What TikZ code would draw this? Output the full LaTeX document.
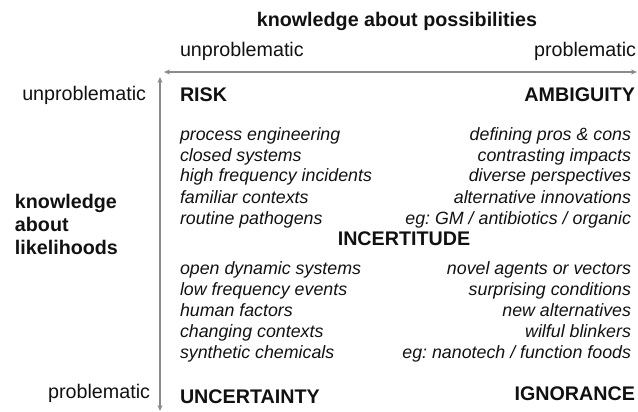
\documentclass[tikz,border=0pt]{standalone}
\usepackage{fontspec}
\setmainfont{Liberation Sans}
\usetikzlibrary{arrows.meta}
\definecolor{axisgray}{HTML}{8A8A8A}
\definecolor{ink}{HTML}{111111}
\frenchspacing
\tikzset{
  every node/.style={inner sep=0pt, outer sep=0pt, text=ink},
  hdr/.style={font=\fontsize{19.7}{23}\selectfont\bfseries},
  lbl/.style={font=\fontsize{19.7}{23}\selectfont},
  item/.style={font=\fontsize{17.8}{21}\selectfont\itshape},
  axis/.style={draw=axisgray, line width=1.2pt, {Stealth[length=6pt,width=5pt]}-{Stealth[length=6pt,width=5pt]}}
}
\begin{document}
\begin{tikzpicture}[x=1pt,y=-1pt]
\useasboundingbox (0,0) rectangle (638,412);
% top title
\node[hdr, anchor=base] (title) at (397,27) {knowledge about possibilities};
\node[lbl, anchor=base west] (tl) at (180,57) {unproblematic};
\node[lbl, anchor=base east] (tr) at (636,57) {problematic};
% axes
\coordinate (hx0) at (164,72);
\coordinate (hx1) at (637,72);
\draw[axis] (hx0) -- (hx1);
\coordinate (vy0) at (160,77);
\coordinate (vy1) at (160,411);
\draw[axis] (vy0) -- (vy1);
% left labels
\node[lbl, anchor=base east] (lu) at (146,101) {unproblematic};
\node[lbl, anchor=base east] (lp) at (150,398) {problematic};
\node[hdr, anchor=base west] (k1) at (15,208) {knowledge};
\node[hdr, anchor=base west] (k2) at (15,231) {about};
\node[hdr, anchor=base west] (k3) at (15,254) {likelihoods};
% quadrant headers
\node[hdr, anchor=base west] (risk) at (180,102) {RISK};
\node[hdr, anchor=base east] (amb) at (635,102) {AMBIGUITY};
\node[hdr, anchor=base] (inc) at (404,245) {INCERTITUDE};
\node[hdr, anchor=base west] (unc) at (180,403) {UNCERTAINTY};
\node[hdr, anchor=base east] (ign) at (635,400) {IGNORANCE};
% items upper left
\node[item, anchor=base west] (ul1) at (180,140) {process engineering};
\node[item, anchor=base west] (ul2) at (180,161) {closed systems};
\node[item, anchor=base west] (ul3) at (180,182) {high frequency incidents};
\node[item, anchor=base west] (ul4) at (180,203) {familiar contexts};
\node[item, anchor=base west] (ul5) at (180,224) {routine pathogens};
% items upper right
\node[item, anchor=base east] (ur1) at (631,140) {defining pros \& cons};
\node[item, anchor=base east] (ur2) at (631,161) {contrasting impacts};
\node[item, anchor=base east] (ur3) at (631,182) {diverse perspectives};
\node[item, anchor=base east] (ur4) at (631,203) {alternative innovations};
\node[item, anchor=base east] (ur5) at (631,224) {eg: GM / antibiotics / organic};
% items lower left
\node[item, anchor=base west] (ll1) at (180,274) {open dynamic systems};
\node[item, anchor=base west] (ll2) at (180,295) {low frequency events};
\node[item, anchor=base west] (ll3) at (180,316) {human factors};
\node[item, anchor=base west] (ll4) at (180,337) {changing contexts};
\node[item, anchor=base west] (ll5) at (180,358) {synthetic chemicals};
% items lower right
\node[item, anchor=base east] (lr1) at (631,274) {novel agents or vectors};
\node[item, anchor=base east] (lr2) at (631,295) {surprising conditions};
\node[item, anchor=base east] (lr3) at (631,316) {new alternatives};
\node[item, anchor=base east] (lr4) at (631,337) {wilful blinkers};
\node[item, anchor=base east] (lr5) at (631,358) {eg: nanotech / function foods};
\end{tikzpicture}
\end{document}
